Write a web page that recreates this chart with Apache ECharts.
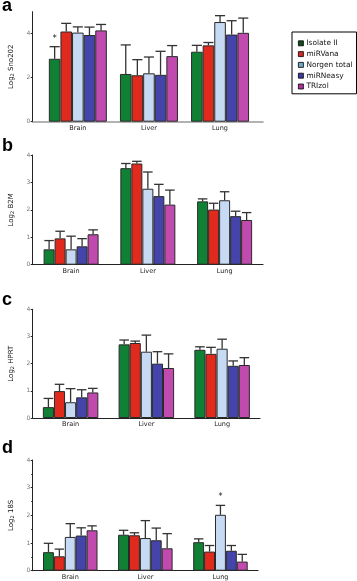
<!DOCTYPE html>
<html>
<head>
<meta charset="utf-8">
<script src="https://cdn.jsdelivr.net/npm/echarts@6/dist/echarts.min.js"></script>
<style>
html, body { margin: 0; padding: 0; background: #fff; }
#chart { width: 357px; height: 581px; }
</style>
</head>
<body>
<div id="chart"></div>
<script>
const tissues = ["Brain", "Liver", "Lung"];
const kits = ["Isolate II", "miRVana", "Norgen total", "miRNeasy", "TRIzol"];
const kitColors = ["#0f8034", "#e02a1e", "#c6daf4", "#4444aa", "#c04aae"];
const legendColors = ["#0d4d1a", "#d02a20", "#70a8c0", "#3a3aa0", "#b030a0"];

// rows = kits, columns = tissues (Brain, Liver, Lung)
const sno202 = [[2.86, 2.17, 3.18], [4.10, 2.11, 3.47], [4.05, 2.20, 4.53], [3.94, 2.13, 3.96], [4.15, 2.98, 4.04]];
const sno202Err = [[0.55, 1.32, 0.29], [0.37, 0.71, 0.13], [0.26, 0.74, 0.29], [0.36, 1.07, 0.63], [0.27, 0.48, 0.67]];
const b2m = [[0.56, 3.52, 2.31], [0.96, 3.69, 2.01], [0.56, 2.77, 2.35], [0.67, 2.50, 1.77], [1.11, 2.19, 1.63]];
const b2mErr = [[0.32, 0.17, 0.09], [0.26, 0.08, 0.23], [0.48, 0.61, 0.31], [0.28, 0.43, 0.18], [0.16, 0.53, 0.27]];
const hprt = [[0.40, 2.71, 2.51], [0.99, 2.76, 2.36], [0.58, 2.44, 2.55], [0.76, 2.00, 1.92], [0.94, 1.84, 1.95]];
const hprtErr = [[0.32, 0.16, 0.11], [0.25, 0.07, 0.24], [0.50, 0.61, 0.35], [0.28, 0.44, 0.18], [0.15, 0.52, 0.27]];
const r18s = [[0.67, 1.30, 1.03], [0.52, 1.28, 0.69], [1.22, 1.18, 2.02], [1.27, 1.10, 0.72], [1.46, 0.81, 0.33]];
const r18sErr = [[0.32, 0.16, 0.12], [0.26, 0.09, 0.22], [0.48, 0.63, 0.34], [0.28, 0.44, 0.19], [0.16, 0.53, 0.26]];
// significance marks: [kit index, tissue index]
const starsA = [[0, 0]];
const starsD = [[2, 2]];

const FONT = "DejaVu Sans";
const chart = echarts.init(document.getElementById("chart"));

const panels = [
  { letter: "a", gene: "Sno202", vals: sno202, errs: sno202Err, stars: starsA, max: 5, interval: 2, barGrid: 1, bw: 11.6, titleTop: -3 },
  { letter: "b", gene: "B2M", vals: b2m, errs: b2mErr, stars: [], max: 4, interval: 1, barGrid: 2, bw: 11, titleTop: 137 },
  { letter: "c", gene: "HPRT", vals: hprt, errs: hprtErr, stars: [], max: 4, interval: 1, barGrid: 3, bw: 11.1, titleTop: 291 },
  { letter: "d", gene: "18S", vals: r18s, errs: r18sErr, stars: starsD, max: 4, interval: 1, barGrid: 4, bw: 10.9, titleTop: 439 }
];

const grids = [
  { left: 26, top: 11.7, width: 237, height: 110 },     // a frame
  { left: 42.3, top: 11.7, width: 213.3, height: 110 }, // a bars
  { left: 26, top: 155, width: 237, height: 109.7 },
  { left: 24, top: 309.3, width: 236, height: 108.7 },
  { left: 21.7, top: 460, width: 236.3, height: 110.7 }
];

function yAxisFor(p, gi, visible) {
  return {
    gridIndex: gi,
    type: "value",
    min: 0,
    max: p.max,
    interval: p.interval,
    show: visible,
    name: visible ? "Log{sub|2} " + p.gene : "",
    nameLocation: "middle",
    nameGap: 13,
    nameRotate: 90,
    nameTextStyle: {
      fontFamily: FONT, fontSize: 7, color: "#111",
      rich: { sub: { fontFamily: FONT, fontSize: 5, verticalAlign: "bottom", padding: [3, 0, 0, 0] } }
    },
    axisLine: { show: true, lineStyle: { color: "#222", width: 1 } },
    axisTick: { show: true, length: 2, lineStyle: { color: "#222" } },
    minorTick: { show: p.letter === "d", splitNumber: 2, length: 1.5, lineStyle: { color: "#222" } },
    axisLabel: { fontFamily: FONT, fontSize: 6, color: "#777", margin: 2.5, showMaxLabel: p.max % p.interval === 0 },
    splitLine: { show: false }
  };
}

function catAxis(gi, lineShow, lineColor) {
  return {
    gridIndex: gi,
    type: "category",
    data: tissues,
    axisLine: { show: lineShow, lineStyle: { color: lineColor, width: 1.2 } },
    axisTick: { show: false },
    axisLabel: { fontFamily: FONT, fontSize: 6.5, color: "#222", margin: 3 },
    splitLine: { show: false }
  };
}

const xAxes = [
  { gridIndex: 0, type: "value", min: 0, max: 1, axisLine: { show: true, onZero: false, lineStyle: { color: "#999", width: 1.5 } },
    axisTick: { show: false }, axisLabel: { show: false }, splitLine: { show: false } },
  catAxis(1, false, "#999"),
  catAxis(2, true, "#222"),
  catAxis(3, true, "#222"),
  catAxis(4, true, "#222")
];
const yAxes = [
  yAxisFor(panels[0], 0, true),
  yAxisFor(panels[0], 1, false),
  yAxisFor(panels[1], 2, true),
  yAxisFor(panels[2], 3, true),
  yAxisFor(panels[3], 4, true)
];

function errRender(offset, cap, starCats) {
  return function (params, api) {
    const c = api.value(0), v = api.value(1), e = api.value(2);
    const p0 = api.coord([c, v]);
    const p1 = api.coord([c, v + e]);
    const x = p0[0] + offset;
    const st = { stroke: "#333", lineWidth: 1.3 };
    const children = [
      { type: "line", shape: { x1: x, y1: p0[1], x2: x, y2: p1[1] }, style: st },
      { type: "line", shape: { x1: x - cap / 2, y1: p1[1], x2: x + cap / 2, y2: p1[1] }, style: st }
    ];
    if (starCats.indexOf(c) >= 0) {
      children.push({ type: "text", x: x, y: p1[1] - 4,
        style: { text: "*", fontFamily: FONT, fontSize: 8, fill: "#111", align: "center", verticalAlign: "bottom" } });
    }
    return { type: "group", children: children };
  };
}

const series = [];
panels.forEach(function (p) {
  kits.forEach(function (kit, k) {
    series.push({
      name: kit,
      type: "bar",
      xAxisIndex: p.barGrid,
      yAxisIndex: p.barGrid,
      data: p.vals[k],
      barWidth: p.bw,
      barGap: "0%",
      itemStyle: { color: kitColors[k], borderColor: "#2a2a2a", borderWidth: 1 },
      z: 3
    });
  });
  kits.forEach(function (kit, k) {
    const starCats = p.stars.filter(function (s) { return s[0] === k; }).map(function (s) { return s[1]; });
    series.push({
      type: "custom",
      xAxisIndex: p.barGrid,
      yAxisIndex: p.barGrid,
      data: p.vals[k].map(function (v, j) { return [j, v, p.errs[k][j]]; }),
      renderItem: errRender((k - 2) * p.bw, p.bw - 1.5, starCats),
      z: 2
    });
  });
});

const option = {
  animation: false,
  backgroundColor: "#fff",
  title: panels.map(function (p) {
    return { text: p.letter, left: 2, top: p.titleTop, padding: 0,
      textStyle: { fontFamily: "Liberation Sans", fontSize: 18, fontWeight: "bold", color: "#000", lineHeight: 18 } };
  }),
  legend: {
    orient: "vertical",
    left: 292,
    top: 32,
    padding: [7, 4, 3, 6],
    itemGap: 2.2,
    itemWidth: 5,
    itemHeight: 5,
    icon: "rect",
    selectedMode: false,
    borderColor: "#000",
    borderWidth: 1,
    backgroundColor: "#fff",
    textStyle: { fontFamily: FONT, fontSize: 7.4, color: "#111", lineHeight: 8.6, padding: [0, 0, 0, -2] },
    data: kits.map(function (k, i) {
      return { name: k, itemStyle: { color: legendColors[i], borderColor: "#000", borderWidth: 0.8 } };
    })
  },
  grid: grids,
  xAxis: xAxes,
  yAxis: yAxes,
  series: series
};
chart.setOption(option);
</script>
</body>
</html>
